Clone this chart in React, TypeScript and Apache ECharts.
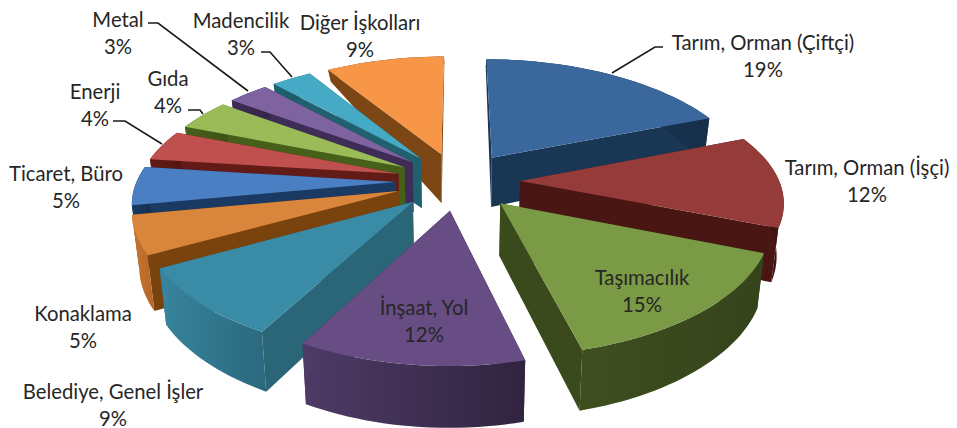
import React, { useEffect, useRef } from "react";
import * as echarts from "echarts";

const categories = [
  "Tarım, Orman (Çiftçi)", "Tarım, Orman (İşçi)", "Taşımacılık", "İnşaat, Yol",
  "Belediye, Genel İşler", "Konaklama", "Ticaret, Büro", "Enerji", "Gıda",
  "Metal", "Madencilik", "Diğer İşkolları",
];
const values = [19, 12, 15, 12, 9, 5, 5, 4, 4, 3, 3, 9];
const topColors = ["#3a689c", "#953b39", "#7a9a45", "#674d84", "#398ba6", "#d9853c", "#4a7fc4", "#c0504d", "#9bbb59", "#7f63a1", "#46a9c6", "#f79646"];
const radialWalls = ["#1a3655", "#4a1613", "#3a4a1c", "#3f2e55", "#2a6578", "#7a430e", "#1a3a63", "#631b18", "#476019", "#3f2c57", "#21616f", "#7d4715"];
const rimLeft = ["#1a3655", "#4a1613", "#3e4f1f", "#4e3b66", "#37859d", "#c8772e", "#1a3a63", "#631b18", "#476019", "#3f2c57", "#21616f", "#7d4715"];
const rimRight = ["#16304c", "#3f1411", "#35431b", "#30243f", "#2b687e", "#b4652a", "#153052", "#551512", "#3d5214", "#35244a", "#1b525e", "#6b3b10"];
const labelCenters: [number, number][] = [
  [763, 55], [867, 180], [642, 290], [424, 320], [113, 404], [83, 326],
  [66, 186], [95, 104], [168, 91], [118, 32], [241, 33], [360, 35],
];
const labelColor = "#262626";
const leaderLines: [number, number][][] = [
  [[612, 73], [655, 47], [663, 47]],
  [[148, 23], [158, 23], [248, 91]],
  [[261, 52], [270, 52], [292, 77]],
  [[188, 110], [200, 110], [203, 114]],
  [[113, 121], [125, 121], [162, 144]],
];

// Projection of the tilted disc
const CX = 458, CY = 181, A = 259, B = 120.6, P = 0.156, EXPLODE = 0.24, SHRINK = 0.978, CURVE = 0.025;
const total = values.reduce((a, b) => a + b, 0);
const rad = (share: number) => (share / total) * Math.PI * 2;

const project = (x: number, y: number): [number, number] => {
  const s = 1 / (1 - P * y);
  return [CX + A * x * s * (1 - CURVE * y * y), CY + B * y * s];
};
const drop = ([x, y]: [number, number]): [number, number] => {
  const h = Math.max(8, 45.5 + (y - 70) * 0.055 - 33.5 * Math.exp(-(y - 70) / 25));
  return [CX + (x - CX) * SHRINK, y + h];
};

let acc = 0;
const slices = values.map((v, i) => {
  const a0 = rad(acc);
  acc += v;
  const a1 = rad(acc);
  const mid = (a0 + a1) / 2;
  const ex = Math.sin(mid) * EXPLODE;
  const ey = -Math.cos(mid) * EXPLODE;
  const n = Math.max(6, Math.ceil(v * 2));
  const rim: [number, number][] = [];
  for (let k = 0; k <= n; k++) {
    const t = a0 + ((a1 - a0) * k) / n;
    rim.push(project(ex + Math.sin(t), ey - Math.cos(t)));
  }
  return { i, mid, apex: project(ex, ey), rim };
});
const paintOrder = [...slices].sort((a, b) => Math.cos(b.mid) - Math.cos(a.mid));

const renderSlice = (params: any) => {
  const s = paintOrder[params.dataIndex];
  const { i, apex, rim } = s;
  const first = rim[0];
  const last = rim[rim.length - 1];
  const wallFill = {
    type: "linear", x: 0, y: 0, x2: 1, y2: 0,
    colorStops: [
      { offset: 0, color: rimLeft[i] },
      { offset: 1, color: rimRight[i] },
    ],
  };
  const quad = (p: [number, number], q: [number, number]) => ({
    type: "polygon",
    shape: { points: [p, q, drop(q), drop(p)] },
    style: { fill: radialWalls[i] },
  });
  return {
    type: "group",
    children: [
      quad(apex, first),
      quad(apex, last),
      {
        type: "polygon",
        shape: { points: [...rim, ...rim.map(drop).reverse()] },
        style: { fill: wallFill },
      },
      {
        type: "polygon",
        shape: { points: [apex, ...rim] },
        style: { fill: topColors[i] },
      },
    ],
  };
};

export default function App() {
  const ref = useRef<HTMLDivElement>(null);
  useEffect(() => {
    document.body.style.margin = "0";
    const chart = echarts.init(ref.current!, undefined, { renderer: "svg" });
    chart.setOption({
      animation: false,
      backgroundColor: "#ffffff",
      graphic: {
        elements: [
          ...leaderLines.map((points) => ({
            type: "polyline",
            z: 50,
            shape: { points },
            style: { stroke: "#1a1a1a", lineWidth: 1.6, fill: "none" },
          })),
          ...categories.map((c, i) => ({
            type: "text",
            z: 60,
            x: labelCenters[i][0],
            y: labelCenters[i][1],
            style: {
              text: `${c}\n${values[i]}%`,
              fontFamily: "Lato",
              fontSize: 20.3,
              lineHeight: 27,
              fill: labelColor,
              align: "center",
              verticalAlign: "middle",
            },
          })),
        ],
      },
      series: [
        {
          type: "custom",
          coordinateSystem: "none",
          renderItem: renderSlice,
          data: paintOrder.map((s) => values[s.i]),
          silent: true,
        },
      ],
    });
    return () => chart.dispose();
  }, []);
  return <div ref={ref} style={{ width: 957, height: 428, position: "absolute", left: 0, top: 0 }} />;
}
